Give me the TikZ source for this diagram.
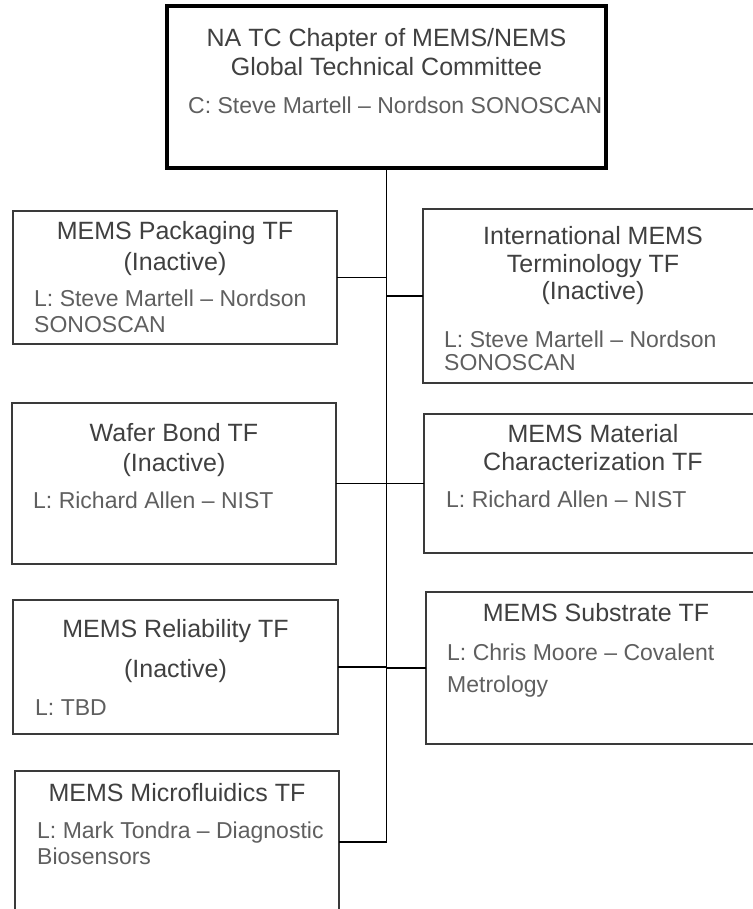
\documentclass[tikz,border=0pt]{standalone}
\usepackage{fontspec}
\setmainfont{Liberation Sans}
\definecolor{ttlgray}{HTML}{404040}
\definecolor{subgray}{HTML}{5F5F5F}
\definecolor{edgegray}{HTML}{3A3A3A}
\tikzset{
  tfbox/.style={draw=edgegray, line width=1.3pt, inner sep=0pt, outer sep=0pt},
  headbox/.style={draw=black, line width=4pt, inner sep=0pt, outer sep=0pt},
  ttl/.style={text=ttlgray, font=\fontsize{25}{30}\selectfont, inner sep=0pt, anchor=base},
  sub/.style={text=subgray, font=\fontsize{23}{26}\selectfont, inner sep=0pt, anchor=base west},
  link/.style={draw=black, line width=1.4pt}
}
\begin{document}
\begin{tikzpicture}[x=1pt,y=-1pt]
\useasboundingbox (0,0) rectangle (752,909);

% committee box
\node[headbox, minimum width=439pt, minimum height=162pt] (top) at (386.5,87) {};
\node[ttl] (topA) at (386.5,47) {NA TC Chapter of MEMS/NEMS};
\node[ttl] (topB) at (386.5,76) {Global Technical Committee};
\node[sub] (topC) at (188,114) {C: Steve Martell -- Nordson SONOSCAN};

% task force boxes, left column
\node[tfbox, minimum width=324pt, minimum height=133pt] (pack) at (175,277.5) {};
\node[ttl] (packA) at (175,240) {MEMS Packaging TF};
\node[ttl] (packB) at (175,270) {(Inactive)};
\node[sub] (packC) at (34,306) {L: Steve Martell -- Nordson};
\node[sub] (packD) at (34,332) {SONOSCAN};

\node[tfbox, minimum width=324pt, minimum height=161pt] (wafer) at (174,483.5) {};
\node[ttl] (waferA) at (174,441) {Wafer Bond TF};
\node[ttl] (waferB) at (174,471) {(Inactive)};
\node[sub] (waferC) at (33,508) {L: Richard Allen -- NIST};

\node[tfbox, minimum width=325pt, minimum height=134pt] (rel) at (175.5,667) {};
\node[ttl] (relA) at (175.5,637) {MEMS Reliability TF};
\node[ttl] (relB) at (175.5,677) {(Inactive)};
\node[sub] (relC) at (35,715) {L: TBD};

\node[tfbox, minimum width=324pt, minimum height=142pt] (micro) at (177,842) {};
\node[ttl] (microA) at (177,801) {MEMS Microfluidics TF};
\node[sub] (microB) at (37,838) {L: Mark Tondra -- Diagnostic};
\node[sub] (microC) at (37,864) {Biosensors};

% task force boxes, right column
\node[tfbox, minimum width=338pt, minimum height=174pt] (intl) at (592,296) {};
\node[ttl] (intlA) at (593,244) {International MEMS};
\node[ttl] (intlB) at (593,272) {Terminology TF};
\node[ttl] (intlC) at (593,299) {(Inactive)};
\node[sub] (intlD) at (444,347) {L: Steve Martell -- Nordson};
\node[sub] (intlE) at (444,370) {SONOSCAN};

\node[tfbox, minimum width=337pt, minimum height=139pt] (mat) at (592.5,483.5) {};
\node[ttl] (matA) at (593,442) {MEMS Material};
\node[ttl] (matB) at (593,470) {Characterization TF};
\node[sub] (matC) at (446,507) {L: Richard Allen -- NIST};

\node[tfbox, minimum width=340pt, minimum height=152pt] (subs) at (596,668) {};
\node[ttl] (subsA) at (596,621) {MEMS Substrate TF};
\node[sub] (subsB) at (447,660) {L: Chris Moore -- Covalent};
\node[sub] (subsC) at (447,692) {Metrology};

% trunk and branches
\coordinate (trunkend) at (top.south |- micro.east);
\draw[link] (top.south) -- (trunkend);
\draw[link] (pack.east) -- (pack.east -| top.south);
\draw[link] (intl.west) -- (intl.west -| top.south);
\draw[link] (wafer.east) -- (mat.west);
\draw[link] (rel.east) -- (rel.east -| top.south);
\draw[link] (subs.west) -- (subs.west -| top.south);
\draw[link] (micro.east) -- (trunkend);
\end{tikzpicture}
\end{document}
